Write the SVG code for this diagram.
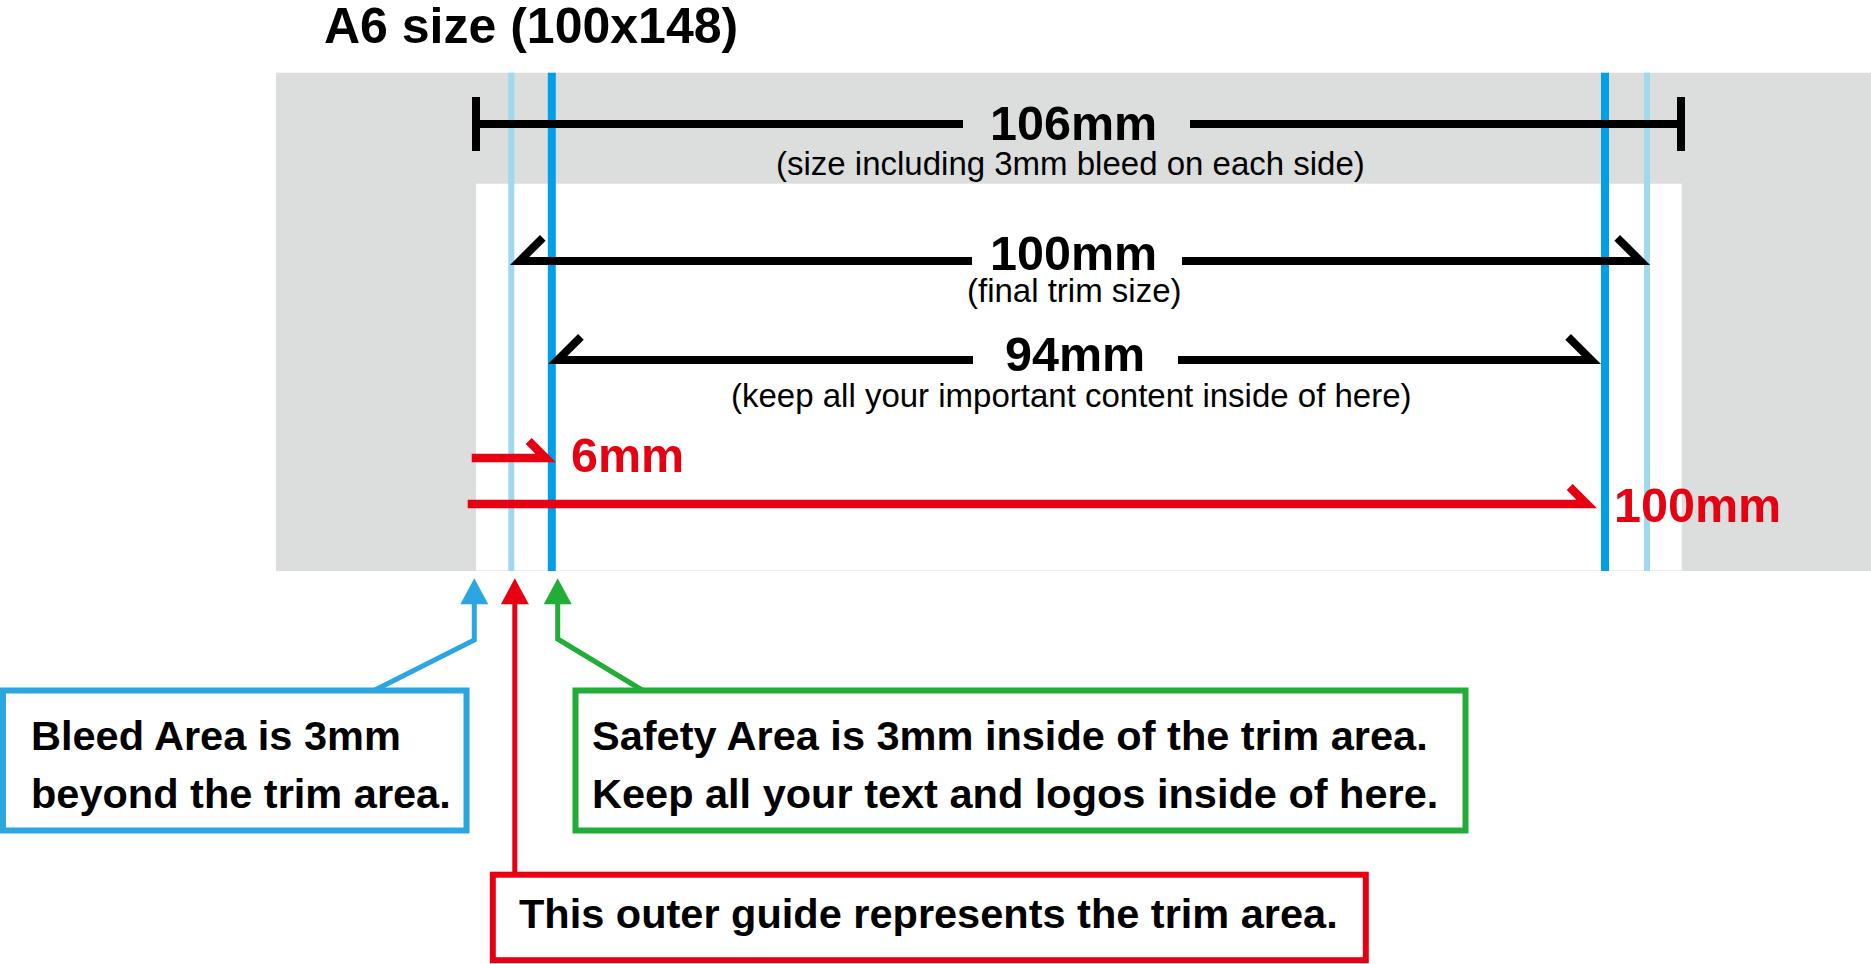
<svg xmlns="http://www.w3.org/2000/svg" width="1871" height="964" viewBox="0 0 1871 964">
<style>
  text { font-family: "Liberation Sans", Arial, Helvetica, sans-serif; }
  .b { font-weight: bold; }
  .big { font-size: 48.5px; font-weight: bold; fill: #000; }
  .small { font-size: 33px; fill: #000; }
  .red { fill: #e60012; }
  .boxtxt { font-size: 41.5px; font-weight: bold; fill: #000; }
  .dim { fill: none; stroke: #000; stroke-width: 8; stroke-linejoin: miter; stroke-linecap: butt; }
  .rdim { fill: none; stroke: #e60012; stroke-width: 8.5; stroke-linejoin: miter; stroke-linecap: butt; }
  .guide-light { stroke: #a0d8ef; stroke-width: 6; }
  .guide { stroke: #00a0e9; stroke-width: 8; }
  .box { fill: #fff; stroke-width: 6; }
  .lead { fill: none; stroke-width: 5; stroke-linejoin: miter; }
</style>
<defs>
  <marker id="triBlue" markerUnits="userSpaceOnUse" markerWidth="28" markerHeight="28" viewBox="0 0 26 28" refX="4.3" refY="14" orient="auto">
    <path d="M0,0 L26,14 L0,28 Z" fill="#2ca6e0"/>
  </marker>
  <marker id="triRed" markerUnits="userSpaceOnUse" markerWidth="28" markerHeight="28" viewBox="0 0 26 28" refX="4.3" refY="14" orient="auto">
    <path d="M0,0 L26,14 L0,28 Z" fill="#e60012"/>
  </marker>
  <marker id="triGreen" markerUnits="userSpaceOnUse" markerWidth="28" markerHeight="28" viewBox="0 0 26 28" refX="4.3" refY="14" orient="auto">
    <path d="M0,0 L26,14 L0,28 Z" fill="#22ac38"/>
  </marker>
</defs>
<rect x="0" y="0" width="1871" height="964" fill="#fff"/>

<g id="title">
  <text x="324" y="43.3" class="b" font-size="50">A6 size (100x148)</text>
</g>

<g id="sheet">
  <rect x="276" y="72.7" width="1595" height="498.3" fill="#dcdddd"/>
  <rect x="476" y="183.7" width="1205.7" height="386.8" fill="#fff"/>
  <line class="guide-light" x1="511.3" y1="72.7" x2="511.3" y2="571"/>
  <line class="guide" x1="551.8" y1="72.7" x2="551.8" y2="571"/>
  <line class="guide" x1="1605" y1="72.7" x2="1605" y2="571"/>
  <line class="guide-light" x1="1647" y1="72.7" x2="1647" y2="571"/>
</g>

<g id="dim-106">
  <line class="dim" x1="476" y1="97" x2="476" y2="151"/>
  <line class="dim" x1="1681" y1="97" x2="1681" y2="151"/>
  <line class="dim" x1="476" y1="124" x2="963" y2="124"/>
  <line class="dim" x1="1190" y1="124" x2="1681" y2="124"/>
  <text x="990" y="140" class="big">106mm</text>
  <text x="776" y="175" class="small">(size including 3mm bleed on each side)</text>
</g>

<g id="dim-100">
  <polyline class="dim" points="542.8,237.8 519.6,261 972,261"/>
  <polyline class="dim" points="1182,261 1640.4,261 1617.2,237.8"/>
  <text x="990" y="270" class="big">100mm</text>
  <text x="967" y="302" class="small">(final trim size)</text>
</g>

<g id="dim-94">
  <polyline class="dim" points="580.9,336.8 557.7,360 973,360"/>
  <polyline class="dim" points="1178,360 1591.3,360 1568.1,336.8"/>
  <text x="1005" y="370.5" class="big">94mm</text>
  <text x="731" y="407" class="small">(keep all your important content inside of here)</text>
</g>

<g id="dim-6mm">
  <polyline class="rdim" points="471.7,458 545.7,458 528.7,441"/>
  <text x="571" y="471.7" class="big red" font-size="49">6mm</text>
</g>

<g id="dim-100mm-red">
  <polyline class="rdim" points="467.7,504 1586.7,504 1569.7,487"/>
  <text x="1614" y="521.5" class="big red" font-size="49">100mm</text>
</g>

<g id="connectors">
  <path class="lead" stroke="#2ca6e0" d="M375,690 L474.3,640 L474.3,600" marker-end="url(#triBlue)"/>
  <path class="lead" stroke="#e60012" stroke-width="6" d="M514.8,874 L514.8,600" marker-end="url(#triRed)"/>
  <path class="lead" stroke="#22ac38" d="M642,690 L557.7,639 L557.7,600" marker-end="url(#triGreen)"/>
</g>

<g id="bleed-box">
  <rect class="box" x="3" y="690.5" width="463.5" height="140" stroke="#2ca6e0"/>
  <text x="31" y="750" class="boxtxt">Bleed Area is 3mm</text>
  <text x="31" y="808" class="boxtxt">beyond the trim area.</text>
</g>

<g id="safety-box">
  <rect class="box" x="575.5" y="690.5" width="890" height="140" stroke="#22ac38"/>
  <text x="592" y="750" class="boxtxt">Safety Area is 3mm inside of the trim area.</text>
  <text x="592" y="808" class="boxtxt">Keep all your text and logos inside of here.</text>
</g>

<g id="trim-box">
  <rect class="box" x="492.8" y="874.7" width="873" height="85.5" stroke="#e60012"/>
  <text x="519" y="928.3" class="boxtxt">This outer guide represents the trim area.</text>
</g>
</svg>
